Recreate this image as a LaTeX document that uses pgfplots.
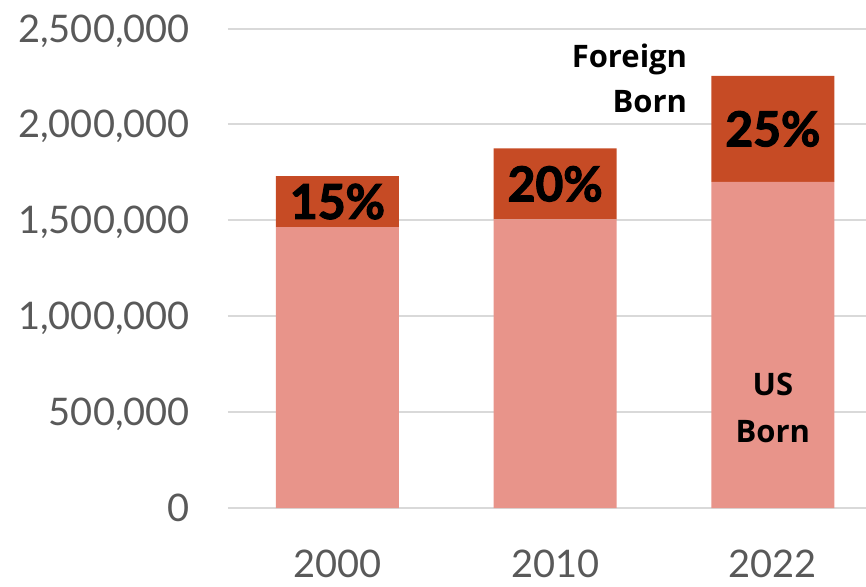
\documentclass[border=0pt]{standalone}
\usepackage{pgfplots}
\pgfplotsset{compat=1.18}
\usepackage{fontspec}
\setmainfont{Lato}
\newfontfamily\osans{Open Sans}
\newfontfamily\pctfont[UprightFeatures={FakeBold=2.5}]{Lato Bold}
\definecolor{usborn}{RGB}{232,148,138}
\definecolor{foreign}{RGB}{198,75,37}
\definecolor{tickgray}{RGB}{89,89,89}
\definecolor{gridgray}{RGB}{217,217,217}
\begin{document}
\begin{tikzpicture}
\begin{axis}[
  scale only axis,
  width=638pt, height=479.4pt,
  xmin=-0.503, xmax=2.428,
  ymin=0, ymax=2500000,
  ybar stacked,
  bar width=123pt,
  xtick={0,1,2},
  xticklabels={2000,2010,2022},
  ytick={0,500000,1000000,1500000,2000000,2500000},
  scaled y ticks=false,
  /pgf/number format/assume math mode=true,
  yticklabel={\pgfmathprintnumber[fixed,1000 sep={,}]{\tick}},
  ymajorgrids,
  major grid style={draw=gridgray, line width=2pt},
  axis line style={draw=none},
  tick style={draw=none},
  major tick length=0pt,
  ticklabel style={font=\fontsize{38}{40}\selectfont, text=tickgray},
  yticklabel style={anchor=base east, inner sep=0pt, xshift=-38pt, yshift=-13.5pt},
  xticklabel style={anchor=base, inner sep=0pt, yshift=-69pt},
  clip=false,
]
\addplot[fill=usborn, draw=none] coordinates {(0,1465000) (1,1505000) (2,1701000)};
\addplot[fill=foreign, draw=none] coordinates {(0,266000) (1,370000) (2,553000)};
\coordinate (SW) at (rel axis cs:0,0);
\coordinate (NE) at (rel axis cs:1,1);
\coordinate (P0) at (axis cs:0,1598000);
\coordinate (P1) at (axis cs:1,1690000);
\coordinate (P2) at (axis cs:2,1977000);
\coordinate (F1) at (axis cs:1.607,2299000);
\coordinate (F2) at (axis cs:1.607,2060000);
\coordinate (U1) at (axis cs:2,589000);
\coordinate (U2) at (axis cs:2,344000);
\end{axis}
\node[font=\pctfont\fontsize{48}{50}\selectfont, text=black] at (P0) {15\%};
\node[font=\pctfont\fontsize{48}{50}\selectfont, text=black] at (P1) {20\%};
\node[font=\pctfont\fontsize{48}{50}\selectfont, text=black] at (P2) {25\%};
\node[font=\osans\fontsize{31}{33}\selectfont\bfseries, anchor=base east, inner sep=0pt] at (F1) {Foreign};
\node[font=\osans\fontsize{31}{33}\selectfont\bfseries, anchor=base east, inner sep=0pt] at (F2) {Born};
\node[font=\osans\fontsize{31}{33}\selectfont\bfseries, anchor=base, inner sep=0pt] at (U1) {US};
\node[font=\osans\fontsize{31}{33}\selectfont\bfseries, anchor=base, inner sep=0pt] at (U2) {Born};
\pgfresetboundingbox
\path ([shift={(-228pt,-78pt)}]SW) rectangle ([shift={(0pt,28.6pt)}]NE);
\end{tikzpicture}
\end{document}
